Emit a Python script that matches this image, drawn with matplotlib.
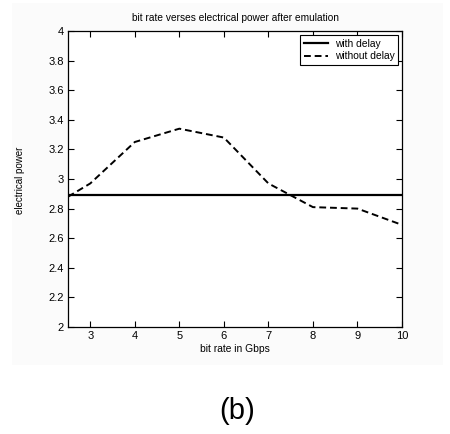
import matplotlib
matplotlib.use("Agg")
import matplotlib.pyplot as plt
from matplotlib.patches import Rectangle

plt.rcParams['font.family'] = ['Liberation Sans', 'DejaVu Sans']

bit_rate = [2.5, 3, 4, 5, 6, 7, 8, 9, 10]
without_delay = [2.88, 2.97, 3.25, 3.34, 3.28, 2.97, 2.81, 2.80, 2.69]
with_delay_level = 2.89
xticks = [3, 4, 5, 6, 7, 8, 9, 10]
yticks = [2, 2.2, 2.4, 2.6, 2.8, 3, 3.2, 3.4, 3.6, 3.8, 4]

fig = plt.figure(figsize=(4.5, 4.34), dpi=100)
bg = Rectangle((12/450, 1-365/434), (443-12)/450, (365-3)/434,
               transform=fig.transFigure, facecolor='#fbfbfb',
               edgecolor='none', zorder=-5)
fig.patches.append(bg)
ax = fig.add_axes([68/450, 1-327/434, (402-68)/450, (327-31)/434])
ax.set_zorder(1)
ax.set_facecolor('white')
ax.plot([bit_rate[0], bit_rate[-1]], [with_delay_level, with_delay_level],
        color='black', lw=1.6, label='with delay')
ax.plot(bit_rate, without_delay, color='black', lw=1.4, ls=(0, (3.5, 2)),
        label='without delay')
ax.set_xlim(2.5, 10)
ax.set_ylim(2, 4)
ax.set_xticks(xticks)
ax.set_yticks(yticks)
ax.set_xticklabels([str(v) for v in xticks])
ax.set_yticklabels(['2', '2.2', '2.4', '2.6', '2.8', '3', '3.2', '3.4', '3.6', '3.8', '4'])
ax.tick_params(direction='in', length=4, width=0.8, labelsize=8,
               top=True, right=True, pad=3)
for s in ax.spines.values():
    s.set_linewidth(0.9)
ax.set_title('bit rate verses electrical power after emulation', fontsize=7.3, pad=7)
ax.set_xlabel('bit rate in Gbps', fontsize=7.4, labelpad=2)
fig.text(20/450, 1-180/434, 'electrical power', rotation=90, fontsize=7,
         ha='center', va='center')
leg = ax.legend(loc='upper right', fontsize=7.4, frameon=True, fancybox=False,
                borderaxespad=0.4, handlelength=2.4, borderpad=0.35,
                labelspacing=0.25, handletextpad=0.6, framealpha=1)
leg.get_frame().set_edgecolor('black')
leg.get_frame().set_linewidth(0.8)
fig.text(237.5/450, 1-411/434, '(b)', fontsize=21, ha='center', va='center')
fig.savefig('out.png', dpi=100)
